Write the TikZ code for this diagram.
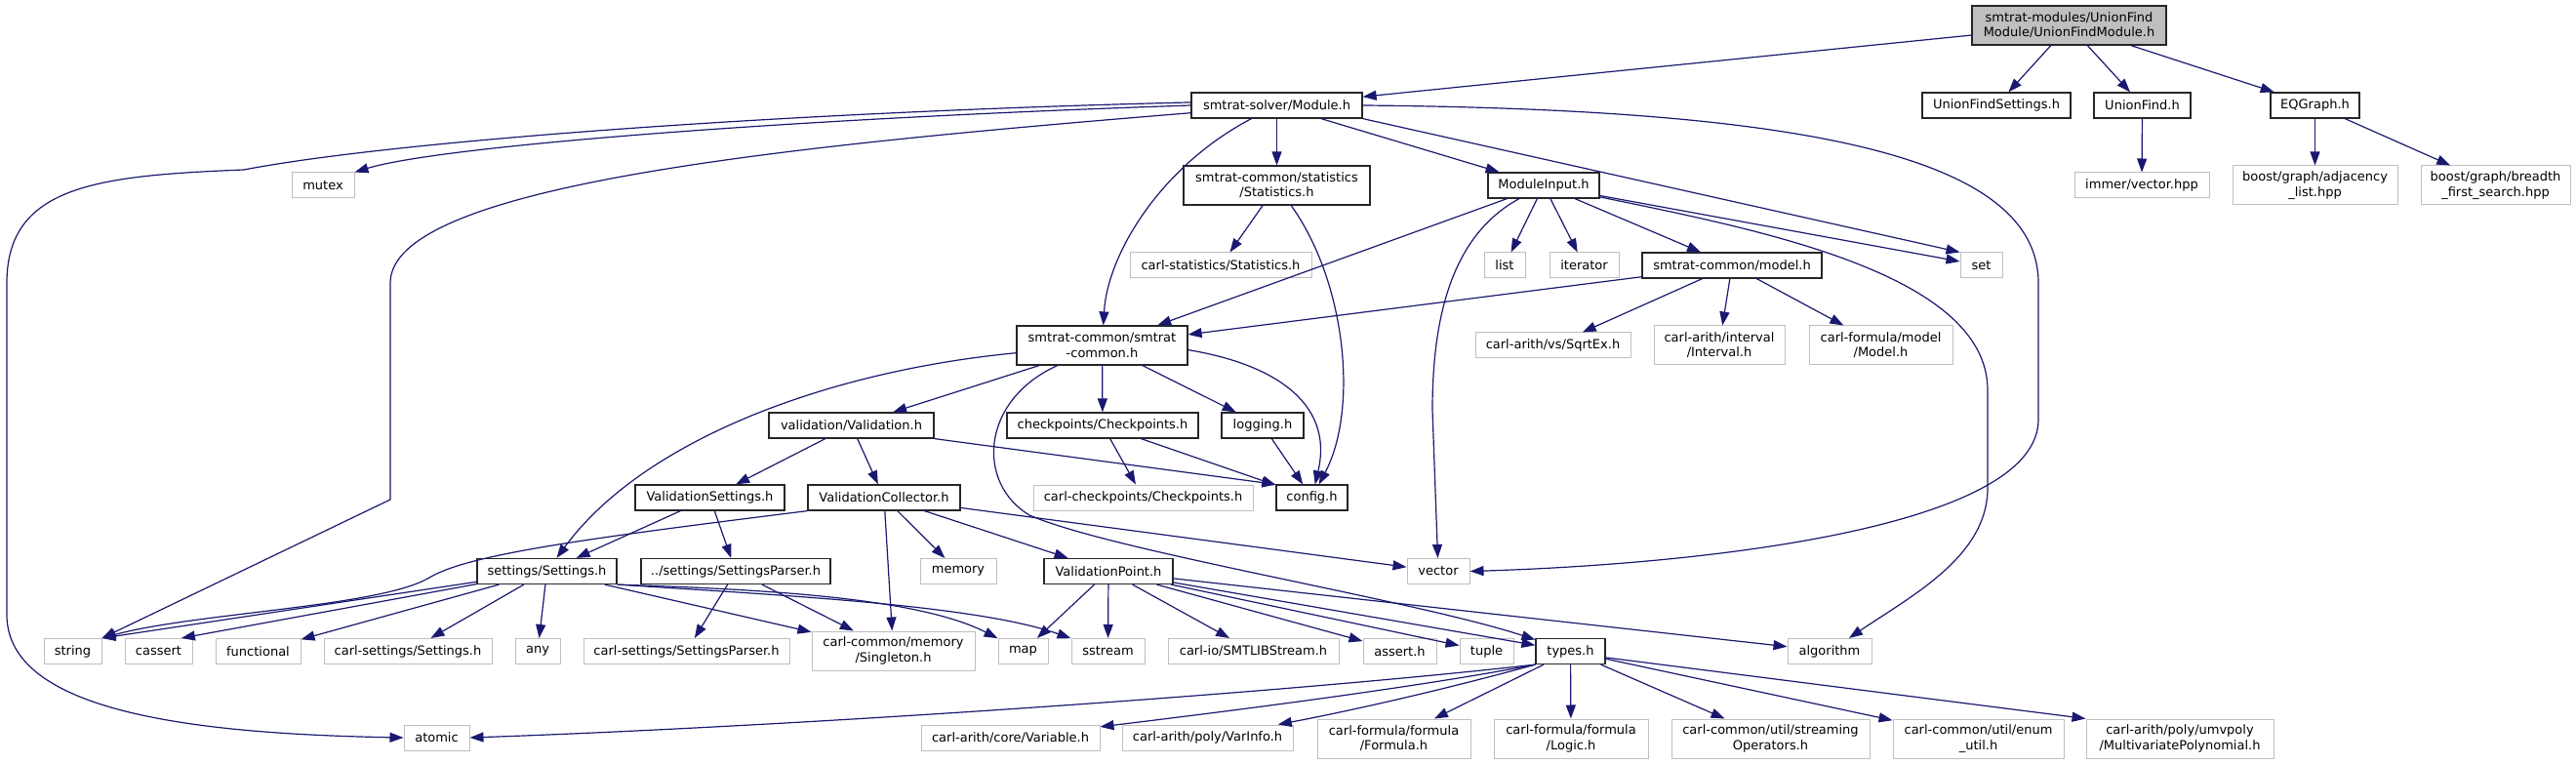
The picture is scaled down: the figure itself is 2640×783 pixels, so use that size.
\documentclass[tikz,border=0pt]{standalone}
\usepackage{fontspec}
\setmainfont{DejaVu Sans}
\usepackage{tikz}
\usetikzlibrary{arrows.meta}
\definecolor{dxedge}{HTML}{191970}
\definecolor{dxgray}{HTML}{BFBFBF}

\begin{document}
\begin{tikzpicture}[
  x=1pt, y=-1pt,
  font=\fontsize{13}{15.3}\selectfont,
  file/.style={draw, align=center, inner sep=2pt, minimum height=26pt},
  doc/.style={file, draw=black!85, line width=1.2pt},
  ext/.style={file, draw=dxgray, line width=1pt},
  top/.style={doc, fill=dxgray},
  dep/.style={-{Triangle[length=14pt,width=10pt]}, dxedge, line width=1.2pt},
]
\fill[white] (0,0) rectangle (2640,783);
\useasboundingbox (0,0) rectangle (2640,783);

% ---- rank 0: the file itself ----
\node[top, minimum width=199, minimum height=40] (ufmodule) at (2120.5,26) {smtrat-modules/UnionFind\\Module/UnionFindModule.h};

% ---- rank 1 ----
\node[doc, minimum width=175] (module)     at (1308.5,108) {smtrat-solver/Module.h};
\node[doc, minimum width=152] (ufsettings) at (2046,108)   {UnionFindSettings.h};
\node[doc, minimum width=99]  (unionfind)  at (2195.5,108) {UnionFind.h};
\node[doc, minimum width=91]  (eqgraph)    at (2372.5,108) {EQGraph.h};

% ---- rank 2 ----
\node[ext, minimum width=64] (mutex) at (331,190) {mutex};
\node[doc, minimum width=191, minimum height=40] (statistics) at (1308.5,190) {smtrat-common/statistics\\/Statistics.h};
\node[doc, minimum width=114] (moduleinput) at (1582,190) {ModuleInput.h};
\node[ext, minimum width=138] (immervec) at (2195,190) {immer/vector.hpp};
\node[ext, minimum width=169, minimum height=40] (adjlist) at (2372.5,190) {boost/graph/adjacency\\\_list.hpp};
\node[ext, minimum width=153, minimum height=40] (bfs) at (2557.5,190) {boost/graph/breadth\\\_first\_search.hpp};

% ---- rank 3 ----
\node[ext, minimum width=186] (carlstats) at (1251,272)   {carl-statistics/Statistics.h};
\node[ext, minimum width=42]  (list)      at (1542,272)   {list};
\node[ext, minimum width=71]  (iterator)  at (1623.5,272) {iterator};
\node[doc, minimum width=184] (model)     at (1775,272)   {smtrat-common/model.h};
\node[ext, minimum width=43]  (set)       at (2030.5,272) {set};

% ---- rank 4 ----
\node[doc, minimum width=175, minimum height=40] (smtratcommon) at (1129.5,354) {smtrat-common/smtrat\\-common.h};
\node[ext, minimum width=159] (sqrtex) at (1591.5,354) {carl-arith/vs/SqrtEx.h};
\node[ext, minimum width=134, minimum height=40] (interval)  at (1762,354)   {carl-arith/interval\\/Interval.h};
\node[ext, minimum width=147, minimum height=40] (carlmodel) at (1927.5,354) {carl-formula/model\\/Model.h};

% ---- rank 5 ----
\node[doc, minimum width=169] (validation)  at (872.5,436) {validation/Validation.h};
\node[doc, minimum width=196] (checkpoints) at (1130,436)  {checkpoints/Checkpoints.h};
\node[doc, minimum width=84]  (logging)     at (1294,436)  {logging.h};

% ---- rank 6 ----
\node[doc, minimum width=153] (valsettings)  at (727.5,510)  {ValidationSettings.h};
\node[doc, minimum width=156] (valcollector) at (906,510)    {ValidationCollector.h};
\node[ext, minimum width=225] (carlcheck)    at (1171.5,510) {carl-checkpoints/Checkpoints.h};
\node[doc, minimum width=73]  (config)       at (1344.5,510) {config.h};

% ---- rank 7 ----
\node[doc, minimum width=143] (settings) at (560.5,585.5) {settings/Settings.h};
\node[doc, minimum width=194] (parser)   at (754,585.5)   {../settings/SettingsParser.h};
\node[ext, minimum width=78]  (memory)   at (982,585.5)   {memory};
\node[doc, minimum width=132] (valpoint) at (1136,585.5)  {ValidationPoint.h};
\node[ext, minimum width=64]  (vector)   at (1474,585.5)  {vector};

% ---- rank 8 ----
\node[ext, minimum width=59]  (string)     at (74.5,667.5)  {string};
\node[ext, minimum width=69]  (cassert)    at (162.5,667.5) {cassert};
\node[ext, minimum width=87]  (functional) at (264.5,667.5) {functional};
\node[ext, minimum width=172] (carlsettings) at (418,667.5) {carl-settings/Settings.h};
\node[ext, minimum width=46]  (any)        at (551,667.5)   {any};
\node[ext, minimum width=211] (carlparser) at (703.5,667.5) {carl-settings/SettingsParser.h};
\node[ext, minimum width=167, minimum height=40] (singleton) at (915.5,667) {carl-common/memory\\/Singleton.h};
\node[ext, minimum width=51]  (map)        at (1048.5,667.5) {map};
\node[ext, minimum width=75]  (sstream)    at (1135.5,667.5) {sstream};
\node[ext, minimum width=175] (smtlib)     at (1284.5,667.5) {carl-io/SMTLIBStream.h};
\node[ext, minimum width=75]  (assert)     at (1434.5,667.5) {assert.h};
\node[ext, minimum width=55]  (tuple)      at (1523.5,667.5) {tuple};
\node[doc, minimum width=71]  (types)      at (1609.5,667.5) {types.h};
\node[ext, minimum width=86]  (algorithm)  at (1875,667.5)   {algorithm};

% ---- rank 9 ----
\node[ext, minimum width=67]  (atomic)   at (447.5,756)  {atomic};
\node[ext, minimum width=183] (variable) at (1035.5,756) {carl-arith/core/Variable.h};
\node[ext, minimum width=175] (varinfo)  at (1237.5,756) {carl-arith/poly/VarInfo.h};
\node[ext, minimum width=157, minimum height=40] (formula)   at (1428.5,757) {carl-formula/formula\\/Formula.h};
\node[ext, minimum width=158, minimum height=40] (logic)     at (1610,757)   {carl-formula/formula\\/Logic.h};
\node[ext, minimum width=203, minimum height=40] (streaming) at (1814.5,757) {carl-common/util/streaming\\Operators.h};
\node[ext, minimum width=175, minimum height=40] (enumutil)  at (2027.5,757) {carl-common/util/enum\\\_util.h};
\node[ext, minimum width=192, minimum height=40] (multipoly) at (2234,757)   {carl-arith/poly/umvpoly\\/MultivariatePolynomial.h};

% ---- edges out of the module header ----
\draw[dep] (ufmodule) -- (module);
\draw[dep] (ufmodule) -- (ufsettings);
\draw[dep] (ufmodule) -- (unionfind);
\draw[dep] (ufmodule) -- (eqgraph);
\draw[dep] (unionfind) -- (immervec);
\draw[dep] (eqgraph) -- (adjlist);
\draw[dep] (eqgraph) -- (bfs);

% ---- Module.h ----
\draw[dep] (module.180) .. controls (800,122) and (450,150) .. (mutex.north east);
\draw[dep] (module.178) .. controls (800,115) and (400,145) .. (250,174)
  .. controls (100,180) and (7,190) .. (7,290) -- (7,630)
  .. controls (7,730) and (200,752) .. (atomic.west);
\draw[dep] (module.185) .. controls (800,150) and (400,190) .. (400,290) -- (400,512) -- (string.north east);
\draw[dep] (module) -- (statistics);
\draw[dep] (module) .. controls (1190,170) and (1135,260) .. (smtratcommon);
\draw[dep] (module) -- (moduleinput);
\draw[dep] (module.south east) -- (set.north west);
\draw[dep] (module.east) .. controls (1850,112) and (2089,160) .. (2089,290) -- (2089,430)
  .. controls (2089,540) and (1750,578) .. (vector.east);

% ---- statistics, ModuleInput.h, model.h ----
\draw[dep] (statistics) -- (carlstats);
\draw[dep] (statistics) .. controls (1380,290) and (1392,420) .. (config);
\draw[dep] (moduleinput) -- (smtratcommon);
\draw[dep] (moduleinput) .. controls (1490,240) and (1468,320) .. (1468,420) -- (vector);
\draw[dep] (moduleinput) -- (list);
\draw[dep] (moduleinput) -- (iterator);
\draw[dep] (moduleinput) -- (model);
\draw[dep] (moduleinput) -- (set);
\draw[dep] (moduleinput) .. controls (1800,235) and (2037,280) .. (2037,400) -- (2037,500)
  .. controls (2037,570) and (1960,610) .. (algorithm);
\draw[dep] (model) -- (smtratcommon);
\draw[dep] (model) -- (sqrtex);
\draw[dep] (model) -- (interval);
\draw[dep] (model) -- (carlmodel);

% ---- smtrat-common.h ----
\draw[dep] (smtratcommon.185) .. controls (850,380) and (660,450) .. (settings);
\draw[dep] (smtratcommon) -- (validation);
\draw[dep] (smtratcommon) .. controls (1005,410) and (1000,495) .. (1055,528)
  .. controls (1140,565) and (1450,615) .. (types);
\draw[dep] (smtratcommon) -- (checkpoints);
\draw[dep] (smtratcommon) -- (logging);
\draw[dep] (smtratcommon.-3) .. controls (1300,372) and (1368,410) .. (config);

% ---- validation layer ----
\draw[dep] (validation.south east) -- (config.north west);
\draw[dep] (validation) -- (valsettings);
\draw[dep] (validation) -- (valcollector);
\draw[dep] (checkpoints) -- (carlcheck);
\draw[dep] (checkpoints) -- (config);
\draw[dep] (logging) -- (config);
\draw[dep] (valsettings) -- (settings);
\draw[dep] (valsettings) -- (parser);
\draw[dep] (valcollector.south west) .. controls (600,552) and (480,568) .. (440,592)
  .. controls (390,622) and (200,628) .. (string.north east);
\draw[dep] (valcollector) -- (singleton);
\draw[dep] (valcollector) -- (memory);
\draw[dep] (valcollector) -- (valpoint);
\draw[dep] (valcollector) -- (vector);

% ---- settings ----
\draw[dep] (settings) -- (string.north east);
\draw[dep] (settings) -- (cassert.30);
\draw[dep] (settings) -- (functional);
\draw[dep] (settings) -- (carlsettings);
\draw[dep] (settings) -- (any);
\draw[dep] (settings) -- (singleton);
\draw[dep] (settings.south east) .. controls (780,604) and (940,612) .. (map);
\draw[dep] (settings.south east) .. controls (800,610) and (1000,620) .. (sstream);
\draw[dep] (parser) -- (carlparser);
\draw[dep] (parser) -- (singleton);

% ---- ValidationPoint.h ----
\draw[dep] (valpoint) -- (map);
\draw[dep] (valpoint) -- (sstream);
\draw[dep] (valpoint) -- (smtlib);
\draw[dep] (valpoint) -- (assert);
\draw[dep] (valpoint) -- (tuple);
\draw[dep] (valpoint) -- (types);
\draw[dep] (valpoint) -- (algorithm);

% ---- types.h ----
\draw[dep] (types.south west) .. controls (1300,712) and (800,745) .. (atomic.east);
\draw[dep] (types.south west) .. controls (1450,705) and (1250,730) .. (variable);
\draw[dep] (types.south west) .. controls (1450,715) and (1350,735) .. (varinfo);
\draw[dep] (types) -- (formula);
\draw[dep] (types) -- (logic);
\draw[dep] (types) -- (streaming);
\draw[dep] (types) -- (enumutil);
\draw[dep] (types.-10) -- (multipoly.north west);
\end{tikzpicture}
\end{document}
